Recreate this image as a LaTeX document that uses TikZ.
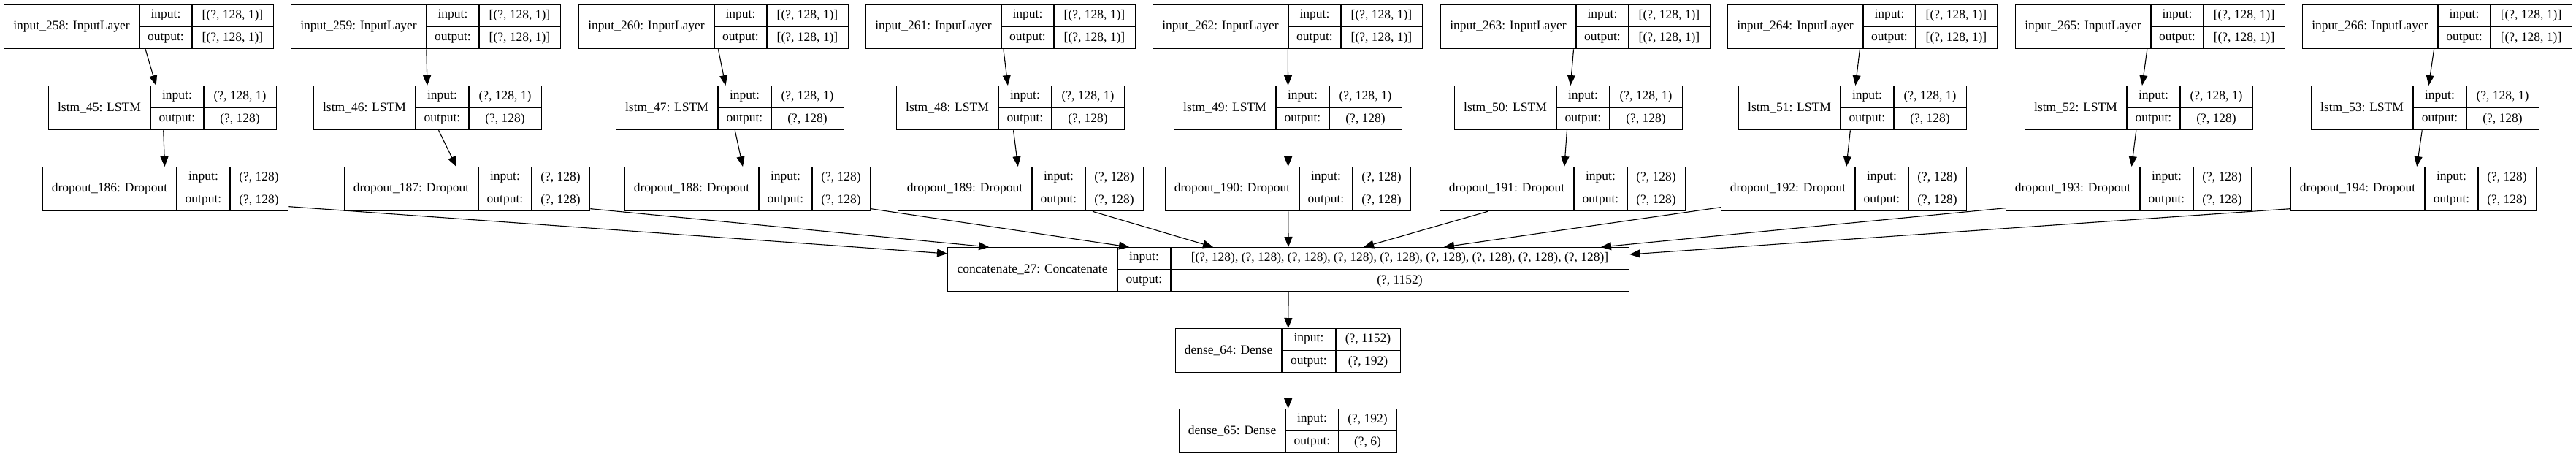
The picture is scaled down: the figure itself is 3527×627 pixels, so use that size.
\documentclass[tikz,border=0pt]{standalone}
\usepackage{fontspec}
\setmainfont{Liberation Serif}
\usetikzlibrary{arrows.meta}
\newcommand{\kbox}[9]{%
  \node[rec,minimum width=#5,anchor=north west] (#1) at (#2,#3) {};
  \draw[cellline] ([xshift=#6]#1.north west) -- ([xshift=#6]#1.south west)
    ([xshift=#7]#1.north west) -- ([xshift=#7]#1.south west)
    ([xshift=#6]#1.west) -- (#1.east);
  \node[lbl] (#1-n) at ([xshift={#6/2}]#1.west) {#4};
  \node[lbl] (#1-ki) at ([xshift={(#6+#7)/2},yshift=-15]#1.north west) {input:};
  \node[lbl] (#1-ko) at ([xshift={(#6+#7)/2},yshift=15]#1.south west) {output:};
  \node[lbl] (#1-vi) at ([xshift={(#7+#5)/2},yshift=-15]#1.north west) {#8};
  \node[lbl] (#1-vo) at ([xshift={(#7+#5)/2},yshift=15]#1.south west) {#9};
}

\begin{document}
\begin{tikzpicture}[
    x=1pt,y=-1pt,
    rec/.style={draw,line width=1.3pt,minimum height=60,inner sep=0pt},
    cellline/.style={line width=1.3pt},
    lbl/.style={inner sep=0pt,font=\fontsize{17.5}{21}\selectfont},
    arr/.style={-{Triangle[length=14pt,width=11pt]},line width=1.1pt}
    ]
    \useasboundingbox (0,0) rectangle (3527,627);
    \kbox{in258}{5}{6}{input\_258: InputLayer}{369}{186}{258}{[(?, 128, 1)]}{[(?, 128, 1)]}
    \kbox{in259}{398}{6}{input\_259: InputLayer}{369}{186}{258}{[(?, 128, 1)]}{[(?, 128, 1)]}
    \kbox{in260}{792}{6}{input\_260: InputLayer}{369}{186}{258}{[(?, 128, 1)]}{[(?, 128, 1)]}
    \kbox{in261}{1185}{6}{input\_261: InputLayer}{369}{186}{258}{[(?, 128, 1)]}{[(?, 128, 1)]}
    \kbox{in262}{1578}{6}{input\_262: InputLayer}{369}{186}{258}{[(?, 128, 1)]}{[(?, 128, 1)]}
    \kbox{in263}{1972}{6}{input\_263: InputLayer}{369}{186}{258}{[(?, 128, 1)]}{[(?, 128, 1)]}
    \kbox{in264}{2365}{6}{input\_264: InputLayer}{369}{186}{258}{[(?, 128, 1)]}{[(?, 128, 1)]}
    \kbox{in265}{2759}{6}{input\_265: InputLayer}{369}{186}{258}{[(?, 128, 1)]}{[(?, 128, 1)]}
    \kbox{in266}{3152}{6}{input\_266: InputLayer}{369}{186}{258}{[(?, 128, 1)]}{[(?, 128, 1)]}

    \kbox{ls45}{66}{117}{lstm\_45: LSTM}{312}{140}{213}{(?, 128, 1)}{(?, 128)}
    \kbox{ls46}{429}{117}{lstm\_46: LSTM}{312}{140}{213}{(?, 128, 1)}{(?, 128)}
    \kbox{ls47}{843}{117}{lstm\_47: LSTM}{312}{140}{213}{(?, 128, 1)}{(?, 128)}
    \kbox{ls48}{1227}{117}{lstm\_48: LSTM}{312}{140}{213}{(?, 128, 1)}{(?, 128)}
    \kbox{ls49}{1607}{117}{lstm\_49: LSTM}{312}{140}{213}{(?, 128, 1)}{(?, 128)}
    \kbox{ls50}{1991}{117}{lstm\_50: LSTM}{312}{140}{213}{(?, 128, 1)}{(?, 128)}
    \kbox{ls51}{2380}{117}{lstm\_51: LSTM}{312}{140}{213}{(?, 128, 1)}{(?, 128)}
    \kbox{ls52}{2772}{117}{lstm\_52: LSTM}{312}{140}{213}{(?, 128, 1)}{(?, 128)}
    \kbox{ls53}{3164}{117}{lstm\_53: LSTM}{312}{140}{213}{(?, 128, 1)}{(?, 128)}

    \kbox{dr186}{58}{228}{dropout\_186: Dropout}{336}{184}{257}{(?, 128)}{(?, 128)}
    \kbox{dr187}{471}{228}{dropout\_187: Dropout}{336}{184}{257}{(?, 128)}{(?, 128)}
    \kbox{dr188}{855}{228}{dropout\_188: Dropout}{336}{184}{257}{(?, 128)}{(?, 128)}
    \kbox{dr189}{1229}{228}{dropout\_189: Dropout}{336}{184}{257}{(?, 128)}{(?, 128)}
    \kbox{dr190}{1595}{228}{dropout\_190: Dropout}{336}{184}{257}{(?, 128)}{(?, 128)}
    \kbox{dr191}{1971}{228}{dropout\_191: Dropout}{336}{184}{257}{(?, 128)}{(?, 128)}
    \kbox{dr192}{2356}{228}{dropout\_192: Dropout}{336}{184}{257}{(?, 128)}{(?, 128)}
    \kbox{dr193}{2746}{228}{dropout\_193: Dropout}{336}{184}{257}{(?, 128)}{(?, 128)}
    \kbox{dr194}{3136}{228}{dropout\_194: Dropout}{336}{184}{257}{(?, 128)}{(?, 128)}

    \kbox{cc}{1297}{338}{concatenate\_27: Concatenate}{933}{233}{306}{[(?, 128), (?, 128), (?, 128), (?, 128), (?, 128), (?, 128), (?, 128), (?, 128), (?, 128)]}{(?, 1152)}
    \kbox{de64}{1609}{449}{dense\_64: Dense}{308}{146}{220}{(?, 1152)}{(?, 192)}
    \kbox{de65}{1614}{559}{dense\_65: Dense}{298}{146}{219}{(?, 192)}{(?, 6)}

    \draw[arr] (in258) -- (ls45);
    \draw[arr] (in259) -- (ls46);
    \draw[arr] (in260) -- (ls47);
    \draw[arr] (in261) -- (ls48);
    \draw[arr] (in262) -- (ls49);
    \draw[arr] (in263) -- (ls50);
    \draw[arr] (in264) -- (ls51);
    \draw[arr] (in265) -- (ls52);
    \draw[arr] (in266) -- (ls53);

    \draw[arr] (ls45) -- (dr186);
    \draw[arr] (ls46) -- (dr187);
    \draw[arr] (ls47) -- (dr188);
    \draw[arr] (ls48) -- (dr189);
    \draw[arr] (ls49) -- (dr190);
    \draw[arr] (ls50) -- (dr191);
    \draw[arr] (ls51) -- (dr192);
    \draw[arr] (ls52) -- (dr193);
    \draw[arr] (ls53) -- (dr194);

    \draw[arr] ([yshift=-24]dr186.east) -- ([yshift=-9]cc.north west);
    \draw[arr] ([yshift=-27]dr187.east) -- ([xshift=57]cc.north west);
    \draw[arr] ([yshift=-27]dr188.east) -- ([xshift=249]cc.north west);
    \draw[arr] ([xshift=267]dr189.south west) -- ([xshift=364]cc.north west);
    \draw[arr] (dr190) -- (cc);
    \draw[arr] ([xshift=66]dr191.south west) -- ([xshift=570]cc.north west);
    \draw[arr] ([yshift=-25]dr192.west) -- ([xshift=680]cc.north west);
    \draw[arr] ([yshift=-26]dr193.west) -- ([xshift=895]cc.north west);
    \draw[arr] ([yshift=-27]dr194.west) -- ([yshift=-10]cc.north east);

    \draw[arr] (cc) -- (de64);
    \draw[arr] (de64) -- (de65);
\end{tikzpicture}
\end{document}
